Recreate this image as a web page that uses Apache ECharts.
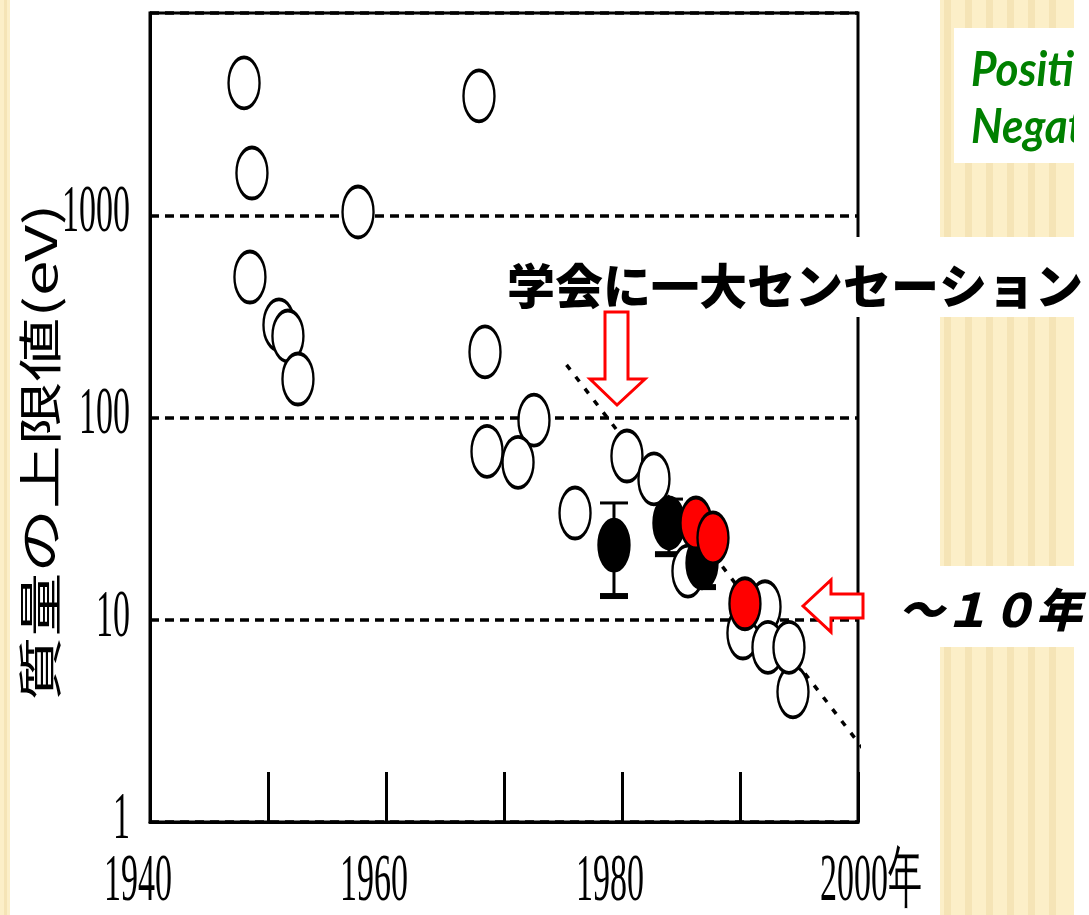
<!DOCTYPE html>
<html>
<head>
<meta charset="utf-8">
<title>質量の上限値</title>
<script src="https://cdn.jsdelivr.net/npm/echarts@6/dist/echarts.min.js"></script>
<style>
html, body { margin: 0; padding: 0; background: #fff; }
#main { width: 1089px; height: 915px; }
</style>
</head>
<body>
<div id="main"></div>
<script>
// 白丸（過去の測定値）
var openYears  = [1947.97, 1967.88, 1948.64, 1957.63, 1948.47, 1950.93, 1951.69, 1952.54, 1968.39, 1972.54,
                  1968.56, 1971.19, 1976.02, 1980.42, 1982.71, 1985.59, 1990.25, 1992.12, 1994.49, 1992.37, 1994.15];
var openValues = [4510, 3890, 1618, 1038, 495, 287, 253, 155, 211, 97,
                  68, 60, 33.7, 64.5, 49.7, 17.4, 8.6, 11.6, 4.4, 7.3, 7.3];
// 黒丸（誤差棒つき）
var blackYears  = [1979.32, 1983.98, 1986.78];
var blackValues = [23.4, 30.1, 19.1];
var blackLow    = [13.1, 21.1, 14.5];
var blackHigh   = [37.8, 39.5, 24.0];
// 赤丸
var redYears  = [1986.27, 1987.71, 1990.42];
var redValues = [30.1, 25.4, 12.0];
// 傾向線
var trendYears  = [1975.3, 2001.3];
var trendValues = [182, 1.98];
// 軸ラベル
var xTickValues = [1940, 1960, 1980, 2000];
var xTickLabels = ['1940', '1960', '1980', '2000年'];
var yTickValues = [1, 10, 100, 1000];
var yTickLabels = ['1', '10', '100', '1000'];
var yAxisName = '質量の上限値(eV)';

var ellipsePath = 'path://M100,0 C155.23,0 200,44.77 200,100 C200,155.23 155.23,200 100,200 C44.77,200 0,155.23 0,100 C0,44.77 44.77,0 100,0 Z';

function zip(a, b) {
	var out = [];
	for (var i = 0; i < a.length; i++) {
		out.push([a[i], b[i]]);
	}
	return out;
}

var errData = [];
for (var i = 0; i < blackYears.length; i++) {
	errData.push([blackYears[i], blackLow[i], blackHigh[i]]);
}

function renderErrorBar(params, api) {
	var x = api.value(0);
	var lo = api.coord([x, api.value(1)]);
	var hi = api.coord([x, api.value(2)]);
	var hw = 14;
	var st = { stroke: '#000', lineWidth: 3 };
	return {
		type : 'group',
		children : [
			{ type : 'line', shape : { x1 : lo[0], y1 : lo[1], x2 : hi[0], y2 : hi[1] }, style : st },
			{ type : 'line', shape : { x1 : hi[0] - hw, y1 : hi[1], x2 : hi[0] + hw, y2 : hi[1] }, style : st },
			{ type : 'rect', shape : { x : lo[0] - hw, y : lo[1] - 3, width : hw * 2, height : 6 }, style : { fill : '#000' } }
		]
	};
}

var chart = echarts.init(document.getElementById('main'));

var option = {
	animation : false,
	backgroundColor : '#fff',
	grid : {
		left : 150,
		right : 231,
		top : 13,
		bottom : 93,
		show : true,
		borderColor : '#000',
		borderWidth : 3,
		backgroundColor : 'transparent'
	},
	xAxis : {
		type : 'value',
		min : 1940,
		max : 2000,
		interval : 10,
		axisLine : { show : true, lineStyle : { color : '#000', width : 3 } },
		axisTick : { show : true, inside : true, length : 50, lineStyle : { color : '#000', width : 3 } },
		axisLabel : { show : false },
		splitLine : { show : false }
	},
	yAxis : {
		type : 'log',
		logBase : 10,
		min : 1,
		max : 10000,
		axisLine : { show : true, lineStyle : { color : '#000', width : 3 } },
		axisTick : { show : false },
		axisLabel : { show : false },
		minorTick : { show : false },
		splitLine : { show : true, lineStyle : { color : '#000', width : 3.5, type : [9, 6] } }
	},
	series : [ {
		name : 'trend',
		type : 'line',
		data : zip(trendYears, trendValues),
		symbol : 'none',
		clip : false,
		silent : true,
		lineStyle : { color : '#000', width : 3.5, type : [6, 9] },
		z : 1
	}, {
		name : 'open',
		type : 'scatter',
		data : zip(openYears, openValues),
		symbol : ellipsePath,
		symbolSize : [31, 51],
		itemStyle : { color : '#fff', borderColor : '#000', borderWidth : 3, opacity : 1 }
	}, {
		name : 'error',
		type : 'custom',
		data : errData,
		renderItem : renderErrorBar,
		encode : { x : 0, y : [1, 2] }
	}, {
		name : 'black',
		type : 'scatter',
		data : zip(blackYears, blackValues),
		symbol : ellipsePath,
		symbolSize : [31, 51],
		itemStyle : { color : '#000', borderColor : '#000', borderWidth : 3, opacity : 1 }
	}, {
		name : 'red',
		type : 'scatter',
		data : zip(redYears, redValues),
		symbol : ellipsePath,
		symbolSize : [31, 51],
		itemStyle : { color : '#ff0000', borderColor : '#000', borderWidth : 3, opacity : 1 }
	} ]
};
chart.setOption(option);

// 背景・注釈・軸ラベル
var beige = '#fcefc8';
var grain = 'rgba(225,190,120,0.22)';
var g = [];

function woodPanel(x, y, w, h) {
	g.push({ type : 'rect', z : 0, shape : { x : x, y : y, width : w, height : h }, style : { fill : beige } });
	for (var sx = x + 4; sx < x + w - 4; sx += 21) {
		g.push({ type : 'rect', z : 0, shape : { x : sx, y : y, width : 7, height : h }, style : { fill : grain } });
	}
}
g.push({ type : 'rect', z : 0, shape : { x : 0, y : 0, width : 10, height : 915 }, style : { fill : beige } });
g.push({ type : 'rect', z : 0, shape : { x : 4, y : 0, width : 3, height : 915 }, style : { fill : grain } });
woodPanel(940, 0, 134, 237);
woodPanel(940, 317, 134, 249);
woodPanel(940, 647, 134, 268);

// 緑の枠
g.push({ type : 'rect', z : 3, shape : { x : 954, y : 28, width : 135, height : 135 }, style : { fill : '#fff' } });
g.push({ type : 'text', z : 4, x : 971, y : 70, scaleY : 1.1,
	style : { text : 'Positive', font : 'italic bold 44px Lato, "Noto Sans"', fill : '#008000', textAlign : 'left', textVerticalAlign : 'middle' } });
g.push({ type : 'text', z : 4, x : 971, y : 127, scaleY : 1.1,
	style : { text : 'Negative', font : 'italic bold 44px Lato, "Noto Sans"', fill : '#008000', textAlign : 'left', textVerticalAlign : 'middle' } });
g.push({ type : 'rect', z : 5, shape : { x : 1074, y : 0, width : 15, height : 915 }, style : { fill : '#fff' } });

// 学会に一大センセーション
g.push({ type : 'rect', z : 8, shape : { x : 500, y : 237, width : 574, height : 80 }, style : { fill : '#fff' } });
g.push({ type : 'text', z : 12, x : 507, y : 286,
	style : { text : '学会に一大センセーション', font : '900 48px "Noto Sans CJK JP"', fill : '#000', textAlign : 'left', textVerticalAlign : 'middle' } });
// 下向き矢印
g.push({ type : 'polygon', z : 12,
	shape : { points : [[605, 312], [628, 312], [628, 379], [645, 379], [617, 405], [590, 379], [605, 379]] },
	style : { fill : '#fff', stroke : '#ff0000', lineWidth : 3 } });
// 左向き矢印
g.push({ type : 'polygon', z : 12,
	shape : { points : [[803, 606], [831, 580], [831, 594], [863, 594], [863, 618], [831, 618], [831, 632]] },
	style : { fill : '#fff', stroke : '#ff0000', lineWidth : 3 } });
g.push({ type : 'text', z : 12, x : 898, y : 610,
	style : { text : '～１０年', font : 'italic 900 46px "Noto Sans CJK JP"', fill : '#000', textAlign : 'left', textVerticalAlign : 'middle' } });

// 軸ラベル
var tickFont = '34px "Liberation Serif", "DejaVu Serif", serif';
for (var i = 0; i < xTickValues.length; i++) {
	var px = chart.convertToPixel({ xAxisIndex : 0 }, xTickValues[i]);
	var last = i === xTickValues.length - 1;
	g.push({ type : 'text', z : 10, x : last ? px - 38 : px - 12, y : 882, scaleY : 2.0,
		style : { text : xTickLabels[i], font : tickFont, fill : '#000', textAlign : last ? 'left' : 'center', textVerticalAlign : 'middle' } });
}
for (var j = 0; j < yTickValues.length; j++) {
	var py = chart.convertToPixel({ yAxisIndex : 0 }, yTickValues[j]);
	g.push({ type : 'text', z : 10, x : 130, y : py - 2, scaleY : 2.0,
		style : { text : yTickLabels[j], font : tickFont, fill : '#000', textAlign : 'right', textVerticalAlign : 'middle' } });
}
g.push({ type : 'text', z : 10, x : 40, y : 452, rotation : Math.PI / 2, scaleX : 1.45,
	style : { text : yAxisName, font : '44px "Noto Sans CJK JP"', fill : '#000', textAlign : 'center', textVerticalAlign : 'middle' } });

chart.setOption({ graphic : g });
</script>
</body>
</html>
